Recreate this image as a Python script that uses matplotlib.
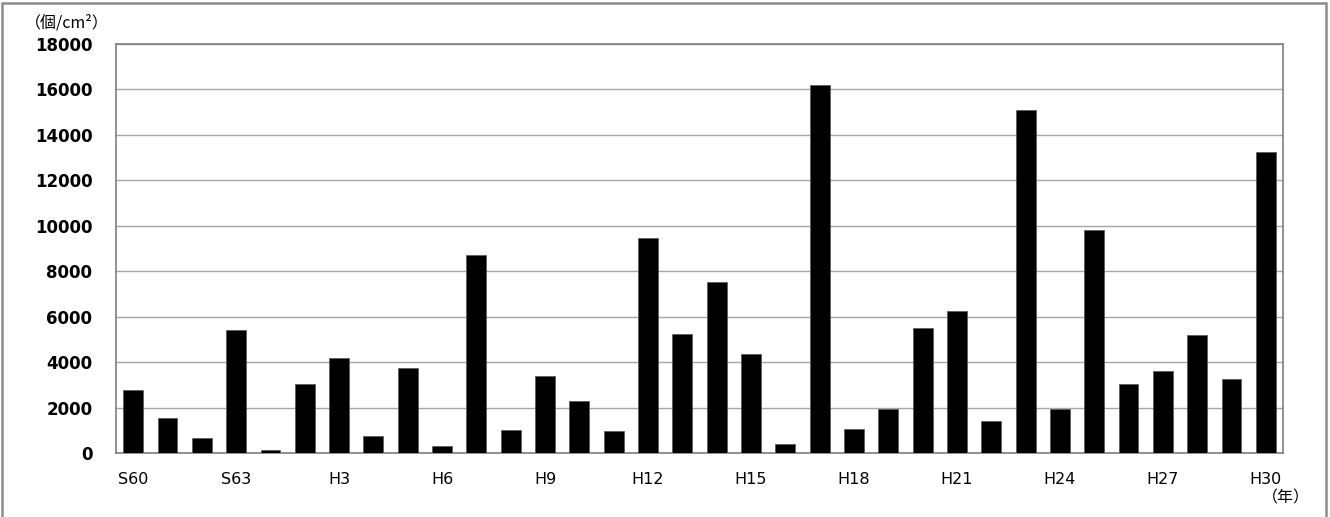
import matplotlib
matplotlib.use('Agg')
import matplotlib.pyplot as plt
from matplotlib.patches import Rectangle

# years S60 .. H30
years = ['S60', 'S61', 'S62', 'S63', 'H1', 'H2', 'H3', 'H4', 'H5', 'H6',
         'H7', 'H8', 'H9', 'H10', 'H11', 'H12', 'H13', 'H14', 'H15', 'H16',
         'H17', 'H18', 'H19', 'H20', 'H21', 'H22', 'H23', 'H24', 'H25', 'H26',
         'H27', 'H28', 'H29', 'H30']
counts = [2780, 1520, 650, 5400, 150, 3050, 4190, 730, 3760, 310,
          8700, 1000, 3400, 2270, 950, 9480, 5220, 7520, 4360, 380,
          16200, 1060, 1950, 5500, 6250, 1420, 15100, 1950, 9830, 3050,
          3600, 5200, 3250, 13250]
shown_labels = ['S60', 'S63', 'H3', 'H6', 'H9', 'H12', 'H15', 'H18', 'H21',
                'H24', 'H27', 'H30']
yticks = [0, 2000, 4000, 6000, 8000, 10000, 12000, 14000, 16000, 18000]

jp = ['Noto Sans CJK JP', 'DejaVu Sans']

fig = plt.figure(figsize=(13.3, 5.17), dpi=100)
ax = fig.add_axes([116/1330, 1 - 453/517, (1283-116)/1330, (453-44)/517])

x = list(range(len(years)))
ax.bar(x, counts, width=0.58, color='black', edgecolor='#555555', linewidth=0.5, zorder=3)

ax.set_xlim(-0.5, len(years) - 0.5)
ax.set_ylim(0, 18000)
ax.set_yticks(yticks)
ax.set_yticklabels([str(v) for v in yticks], fontsize=12, fontweight='bold')
tick_pos = [years.index(s) for s in shown_labels]
ax.set_xticks(tick_pos)
ax.set_xticklabels(shown_labels, fontsize=11.5)
ax.tick_params(axis='both', length=0)
ax.tick_params(axis='y', pad=17)
ax.tick_params(axis='x', pad=14)

ax.grid(axis='y', color='#a6a6a6', linewidth=1, zorder=0)
for sp in ax.spines.values():
    sp.set_color('#7f7f7f')
    sp.set_linewidth(1.2)

# unit labels
fig.text(25/1330, 1 - 23/517, '（個/cm²）', family=jp, fontsize=11.5, va='center', ha='left')
fig.text(1310/1330, 1 - 498/517, '（年）', family=jp, fontsize=11.5, va='center', ha='right')

fig.patches.append(Rectangle((2/1330, -0.05), 1324/1330, 1.05 - 3/517,
                             transform=fig.transFigure, fill=False,
                             edgecolor='#8c8c8c', linewidth=1.8))

fig.savefig('out.png', dpi=100)
